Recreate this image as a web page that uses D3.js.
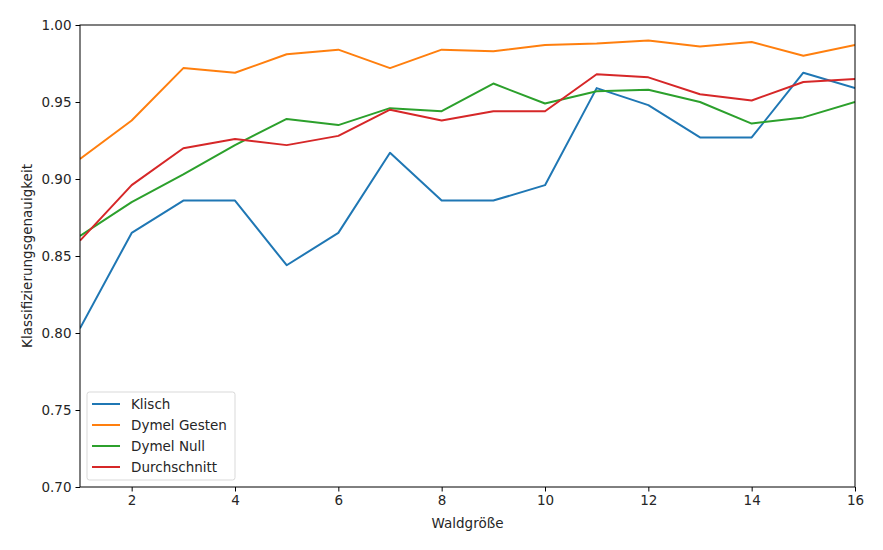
<!DOCTYPE html>
<html lang="de">
<head>
  <meta charset="UTF-8">
  <title>Klassifizierungsgenauigkeit</title>
  <script src="https://d3js.org/d3.v7.min.js"></script>
  <style>
    body { margin: 0; background: #fff; }
    svg text { font-family: "DejaVu Sans", sans-serif; fill: #262626; }
  </style>
</head>
<body>
<div id="chart"></div>
<script>
  // Waldgröße 1..16
  var forestSizes = [1, 2, 3, 4, 5, 6, 7, 8, 9, 10, 11, 12, 13, 14, 15, 16];

  var klisch = [0.803, 0.865, 0.886, 0.886, 0.844, 0.865, 0.917, 0.886,
                0.886, 0.896, 0.959, 0.948, 0.927, 0.927, 0.969, 0.959];
  var dymelGesten = [0.913, 0.938, 0.972, 0.969, 0.981, 0.984, 0.972, 0.984,
                     0.983, 0.987, 0.988, 0.990, 0.986, 0.989, 0.980, 0.987];
  var dymelNull = [0.863, 0.885, 0.903, 0.922, 0.939, 0.935, 0.946, 0.944,
                   0.962, 0.949, 0.957, 0.958, 0.950, 0.936, 0.940, 0.950];
  var durchschnitt = [0.860, 0.896, 0.920, 0.926, 0.922, 0.928, 0.945, 0.938,
                      0.944, 0.944, 0.968, 0.966, 0.955, 0.951, 0.963, 0.965];

  var seriesNames = ["Klisch", "Dymel Gesten", "Dymel Null", "Durchschnitt"];
  var seriesColors = ["#1f77b4", "#ff7f0e", "#2ca02c", "#d62728"];
  var xTicks = [2, 4, 6, 8, 10, 12, 14, 16];
  var yTicks = [0.70, 0.75, 0.80, 0.85, 0.90, 0.95, 1.00];

  var allSeries = [klisch, dymelGesten, dymelNull, durchschnitt];

  var width = 883, height = 550;
  var margin = { top: 25, right: 28, bottom: 63, left: 80 };
  var fontSize = 13.5;

  var svg = d3.select("#chart").append("svg")
    .attr("width", width)
    .attr("height", height);

  var x = d3.scaleLinear().domain([1, 16]).range([margin.left, width - margin.right]);
  var y = d3.scaleLinear().domain([0.70, 1.00]).range([height - margin.bottom, margin.top]);

  // clip lines to the plot box
  svg.append("clipPath").attr("id", "plot-clip")
    .append("rect")
    .attr("x", margin.left).attr("y", margin.top)
    .attr("width", width - margin.left - margin.right)
    .attr("height", height - margin.top - margin.bottom);

  var line = d3.line()
    .x(function(d, i) { return x(forestSizes[i]); })
    .y(function(d) { return y(d); });

  var plot = svg.append("g").attr("clip-path", "url(#plot-clip)");
  allSeries.forEach(function(values, k) {
    plot.append("path")
      .datum(values)
      .attr("fill", "none")
      .attr("stroke", seriesColors[k])
      .attr("stroke-width", 2)
      .attr("stroke-linejoin", "round")
      .attr("d", line);
  });

  // axes
  var xAxis = svg.append("g")
    .attr("transform", "translate(0," + (height - margin.bottom) + ")")
    .call(d3.axisBottom(x).tickValues(xTicks).tickSize(4.5).tickPadding(4).tickFormat(d3.format("d")));
  var yAxis = svg.append("g")
    .attr("transform", "translate(" + margin.left + ",0)")
    .call(d3.axisLeft(y).tickValues(yTicks).tickSize(4.5).tickPadding(4).tickFormat(d3.format(".2f")));

  [xAxis, yAxis].forEach(function(ax) {
    ax.select(".domain").remove();
    ax.selectAll("text").attr("font-size", fontSize).attr("font-family", "DejaVu Sans, sans-serif").attr("fill", "#262626");
    ax.selectAll("line").attr("stroke", "#000").attr("stroke-width", 1);
  });

  // frame
  svg.append("rect")
    .attr("x", margin.left)
    .attr("y", margin.top)
    .attr("width", width - margin.left - margin.right)
    .attr("height", height - margin.top - margin.bottom)
    .attr("fill", "none")
    .attr("stroke", "#000")
    .attr("stroke-width", 1);

  // axis labels
  svg.append("text")
    .attr("x", (margin.left + width - margin.right) / 2)
    .attr("y", 528)
    .attr("text-anchor", "middle")
    .attr("font-size", fontSize)
    .text("Waldgröße");

  svg.append("text")
    .attr("transform", "translate(32," + ((margin.top + height - margin.bottom) / 2) + ") rotate(-90)")
    .attr("text-anchor", "middle")
    .attr("font-size", fontSize)
    .text("Klassifizierungsgenauigkeit");

  // legend
  var legend = svg.append("g").attr("transform", "translate(87,392)");
  legend.append("rect")
    .attr("width", 148)
    .attr("height", 88)
    .attr("rx", 2.5)
    .attr("fill", "#fff")
    .attr("fill-opacity", 0.8)
    .attr("stroke", "#d9d9d9")
    .attr("stroke-width", 1);

  seriesNames.forEach(function(name, k) {
    var row = legend.append("g").attr("transform", "translate(0," + (12 + k * 21) + ")");
    row.append("line")
      .attr("x1", 5).attr("x2", 33)
      .attr("stroke", seriesColors[k])
      .attr("stroke-width", 2);
    row.append("text")
      .attr("x", 44)
      .attr("dy", "0.35em")
      .attr("font-size", fontSize)
      .text(name);
  });
</script>
</body>
</html>
